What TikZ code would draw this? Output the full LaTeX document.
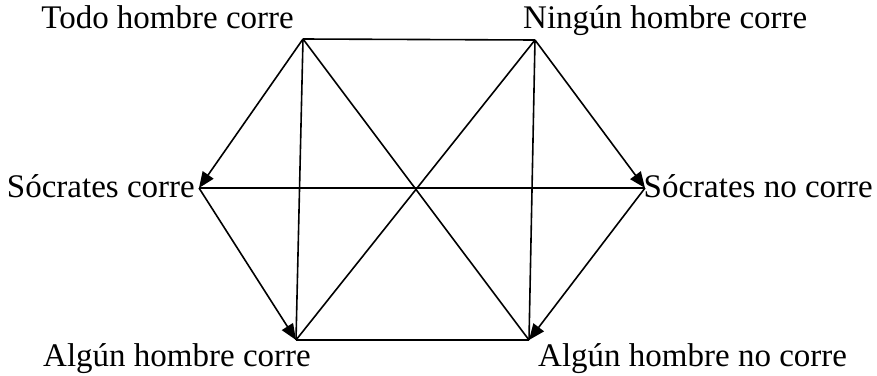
\documentclass[tikz,border=0pt]{standalone}
\usepackage{fontspec}
\setmainfont{Liberation Serif}
\usetikzlibrary{arrows.meta}
\begin{document}
\begin{tikzpicture}[x=1pt,y=-1pt,
  edge/.style={line width=1.6pt},
  arr/.style={edge,-{Triangle[length=16pt,width=13pt]}},
  lbl/.style={inner sep=0pt,font=\fontsize{33}{39}\selectfont}]
\useasboundingbox (0,0) rectangle (877,375);
\coordinate (A) at (303,39);
\coordinate (B) at (535,40);
\coordinate (C) at (199,188);
\coordinate (D) at (645,188);
\coordinate (E) at (296,340);
\coordinate (F) at (529,340);
\node[lbl,anchor=base east] (tA) at (294,28) {Todo hombre corre};
\node[lbl,anchor=base west] (tB) at (523,28) {Ningún hombre corre};
\node[lbl,anchor=base east] (tC) at (195,197) {Sócrates corre};
\node[lbl,anchor=base east] (tD) at (873,197) {Sócrates no corre};
\node[lbl,anchor=base west] (tE) at (43,366) {Algún hombre corre};
\node[lbl,anchor=base west] (tF) at (538,366) {Algún hombre no corre};
\draw[edge] (A) -- (B);
\draw[edge] (A) -- (E);
\draw[edge] (A) -- (F);
\draw[edge] (B) -- (E);
\draw[edge] (B) -- (F);
\draw[edge] (C) -- (D);
\draw[edge] (E) -- (F);
\draw[arr] (A) -- (C);
\draw[arr] (B) -- (D);
\draw[arr] (C) -- (E);
\draw[arr] (D) -- (F);
\end{tikzpicture}
\end{document}
